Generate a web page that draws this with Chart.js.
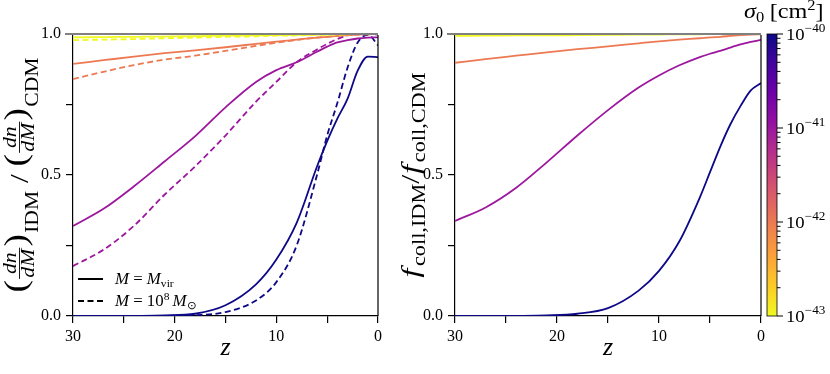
<!DOCTYPE html>
<html><head><meta charset="utf-8">
<script src="https://cdn.jsdelivr.net/npm/chart.js@4.4.0/dist/chart.umd.min.js"></script>
<style>
html,body{margin:0;padding:0;background:#fff;}
#wrap{position:relative;width:830px;height:374px;overflow:hidden;background:#fff;}
canvas{position:absolute;top:0;}
.fl{position:absolute;left:-999px;top:0;font-family:"Liberation Serif";}
</style></head><body>
<div id="wrap">
<canvas id="cL" width="395" height="374" style="left:0px"></canvas>
<canvas id="cR" width="375" height="374" style="left:395px"></canvas>
<canvas id="cB" width="100" height="374" style="left:730px"></canvas>
</div>
<span class="fl">x</span><span class="fl" style="font-style:italic">x</span>
<script>
// ---------------- data ----------------
const zGrid = [30, 27, 24, 21, 18, 15, 12, 10, 8, 6, 5, 4, 3, 2, 1, 0];
const sigmaExponents = [-43, -42, -41, -40];           // sigma_0 = 10^e cm^2
const xTickLabels = [30, 20, 10, 0];
const yTickLabels = [0, 0.5, 1];

// left panel: (dn/dM)_IDM / (dn/dM)_CDM, solid: M = M_vir
const hmfVir_43 = [0.988,0.989,0.990,0.991,0.992,0.994,0.995,0.996,0.997,0.998,0.998,0.999,0.999,1.000,1.000,1.000];
const hmfVir_42 = [0.894,0.907,0.920,0.932,0.942,0.953,0.965,0.973,0.980,0.987,0.990,0.993,0.996,0.998,0.999,1.000];
const hmfVir_41 = [0.319,0.380,0.460,0.548,0.637,0.740,0.830,0.872,0.900,0.937,0.955,0.970,0.978,0.984,0.987,0.988];
const hmfVir_40 = [0.000,0.000,0.0005,0.002,0.008,0.038,0.112,0.200,0.330,0.530,0.620,0.700,0.770,0.870,0.920,0.918];
// dashed: M = 1e8 Msun
const hmf8_43 = [0.978,0.980,0.982,0.985,0.987,0.990,0.992,0.994,0.995,0.997,0.998,0.998,0.999,1.000,1.000,1.000];
const hmf8_42 = [0.840,0.866,0.890,0.909,0.923,0.940,0.958,0.969,0.979,0.987,0.990,0.993,0.996,0.998,0.999,1.000];
const hmf8_41 = [0.177,0.235,0.320,0.430,0.530,0.640,0.760,0.830,0.900,0.945,0.965,0.982,0.995,1.000,1.000,0.998];
const hmf8_40 = [0.000,0.000,0.000,0.0005,0.003,0.014,0.055,0.120,0.250,0.500,0.640,0.755,0.880,0.970,0.997,0.960];

// right panel: f_coll,IDM / f_coll,CDM
const fcoll_43 = [0.993,0.994,0.995,0.995,0.996,0.997,0.998,0.998,0.999,0.999,1.000,1.000,1.000,1.000,1.000,1.000];
const fcoll_42 = [0.898,0.911,0.923,0.935,0.946,0.956,0.967,0.974,0.980,0.985,0.988,0.990,0.993,0.996,0.998,0.999];
const fcoll_41 = [0.337,0.385,0.455,0.545,0.640,0.730,0.810,0.853,0.889,0.918,0.930,0.940,0.952,0.963,0.972,0.979];
const fcoll_40 = [0.000,0.000,0.0005,0.002,0.008,0.028,0.090,0.160,0.265,0.420,0.510,0.600,0.680,0.745,0.800,0.826];

// ---------------- styles ----------------
const sigmaColors = ['#f0f921', '#ed7953', '#9c179e', '#0d0887'];
const plasmaStops = ['#0d0887','#41049d','#6a00a8','#8f0da4','#b12a90','#cc4778','#e16462','#f2844b','#fca636','#fcce25','#f0f921'];
const FAM = '"Liberation Serif", serif';
const F = (size, italic) => (italic ? 'italic ' : '') + size + 'px ' + FAM;
const DASH = [6, 3.5];

Chart.defaults.font.family = FAM;
Chart.defaults.font.size = 16;
Chart.defaults.color = '#000';

function mk(vals, color, dashed) {
  return {
    data: zGrid.map((z, i) => ({ x: z, y: vals[i] })),
    borderColor: color, borderWidth: 1.8, borderDash: dashed ? DASH : [],
    pointRadius: 0, fill: false, cubicInterpolationMode: 'monotone', tension: 0.4
  };
}

function xScale() {
  return {
    type: 'linear', min: 0, max: 30, reverse: true,
    ticks: { stepSize: 5, autoSkip: false, maxRotation: 0, padding: 4, color: '#000', font: { family: FAM, size: 16 },
      callback: v => (xTickLabels.includes(v) ? String(v) : '') },
    grid: { drawOnChartArea: false, drawTicks: true, tickLength: 7, color: '#000', lineWidth: 1.2 },
    border: { display: true, color: '#000', width: 1.2 },
    afterFit: s => { s.height = 58; }
  };
}
function yScale(w) {
  return {
    type: 'linear', min: 0, max: 1,
    ticks: { stepSize: 0.25, autoSkip: false, padding: 5, color: '#000', font: { family: FAM, size: 16 },
      callback: v => (yTickLabels.includes(v) ? v.toFixed(1) : '') },
    grid: { drawOnChartArea: false, drawTicks: true, tickLength: 7, color: '#000', lineWidth: 1.2 },
    border: { display: true, color: '#000', width: 1.2 },
    afterFit: s => { s.width = w; }
  };
}

// ---------------- rich text helpers ----------------
function itemWidth(ctx, it) {
  ctx.font = it.font;
  if (it.frac) return Math.max(ctx.measureText(it.num).width, ctx.measureText(it.den).width) + 4;
  return ctx.measureText(it.t).width + (it.sp || 0);
}
function richWidth(ctx, items) { return items.reduce((a, it) => a + itemWidth(ctx, it), 0); }
function drawItems(ctx, items, x, y) {
  for (const it of items) {
    const w = itemWidth(ctx, it);
    ctx.font = it.font;
    if (it.frac) {
      const wn = ctx.measureText(it.num).width, wd = ctx.measureText(it.den).width;
      ctx.fillText(it.num, x + (w - wn) / 2, y + it.nb);
      ctx.fillText(it.den, x + (w - wd) / 2, y + it.db);
      ctx.fillRect(x + 1, y + it.bar - 0.5, w - 2, 0.9);
    } else {
      ctx.fillText(it.t, x, y + (it.dy || 0));
    }
    x += w;
  }
}
function drawRotLabel(ctx, items, cx, cy, targetLen) {
  ctx.save();
  ctx.translate(cx, cy); ctx.rotate(-Math.PI / 2);
  ctx.textBaseline = 'alphabetic'; ctx.textAlign = 'left'; ctx.fillStyle = '#000';
  const w = richWidth(ctx, items);
  ctx.scale(targetLen / w, 1);
  drawItems(ctx, items, -w / 2, 0);
  ctx.restore();
}
function drawRich(ctx, items, x, y, sx) {
  ctx.save();
  ctx.textBaseline = 'alphabetic'; ctx.textAlign = 'left'; ctx.fillStyle = '#000';
  ctx.translate(x, y); ctx.scale(sx || 1, 1);
  drawItems(ctx, items, 0, 0);
  ctx.restore();
}

const framePlugin = {
  id: 'frame',
  afterDatasetsDraw(chart) {
    const { ctx, chartArea: a } = chart;
    const y1 = chart.scales.y.getPixelForValue(1);
    ctx.save();
    ctx.strokeStyle = '#808080'; ctx.lineWidth = 2.2;
    ctx.beginPath(); ctx.moveTo(a.left - 8, y1); ctx.lineTo(a.right, y1); ctx.stroke();
    ctx.restore();
  },
  afterDraw(chart) {
    const { ctx, chartArea: a } = chart;
    ctx.save();
    ctx.strokeStyle = '#000'; ctx.lineWidth = 1.2;
    ctx.beginPath(); ctx.moveTo(a.right, a.top + 1); ctx.lineTo(a.right, a.bottom); ctx.stroke();
    ctx.fillStyle = '#000'; ctx.font = F(26, true); ctx.textAlign = 'center'; ctx.textBaseline = 'alphabetic';
    ctx.fillText('z', (a.left + a.right) / 2, 355);
    ctx.restore();
  }
};

const P = F(31, false);
const fracItem = { frac: true, num: 'dn', den: 'dM', font: F(18, true), nb: -10, db: 8, bar: -6.5 };
const leftLabel = [
  { t: '(', font: P, dy: 0 }, fracItem, { t: ')', font: P, dy: 0, sp: 1 }, { t: 'IDM', font: F(18, false), dy: 12 },
  { t: ' / ', font: F(26, false), dy: 2 },
  { t: '(', font: P, dy: 0 }, fracItem, { t: ')', font: P, dy: 0, sp: 1 }, { t: 'CDM', font: F(18, false), dy: 12 }
];
const rightLabel = [
  { t: 'f', font: F(26, true), sp: 2 }, { t: 'coll,IDM', font: F(18, false), dy: 6 },
  { t: '/', font: F(26, false), sp: 1 },
  { t: 'f', font: F(26, true), sp: 2 }, { t: 'coll,CDM', font: F(18, false), dy: 6 }
];

const leftPlugin = {
  id: 'leftDeco',
  afterDraw(chart) {
    const ctx = chart.ctx;
    drawRotLabel(ctx, leftLabel, 26, 175, 235);
    ctx.save();
    ctx.strokeStyle = '#000'; ctx.lineWidth = 2;
    ctx.beginPath(); ctx.moveTo(78, 279); ctx.lineTo(103, 279); ctx.stroke();
    ctx.setLineDash(DASH);
    ctx.beginPath(); ctx.moveTo(78, 301); ctx.lineTo(103, 301); ctx.stroke();
    ctx.restore();
    drawRich(ctx, [{ t: 'M', font: F(16, true) }, { t: ' = ', font: F(16) }, { t: 'M', font: F(16, true) }, { t: 'vir', font: F(11), dy: 3 }], 115, 284, 1.05);
    drawRich(ctx, [{ t: 'M', font: F(16, true) }, { t: ' = 10', font: F(16) }, { t: '8', font: F(11), dy: -6, sp: 3 }, { t: 'M', font: F(16, true) }, { t: '⊙', font: F(11), dy: 3 }], 115, 306, 1.05);
  }
};
const rightPlugin = {
  id: 'rightDeco',
  afterDraw(chart) { drawRotLabel(chart.ctx, rightLabel, 24, 175, 205); }
};

const commonOpts = (yw, pad) => ({
  responsive: false, animation: false, devicePixelRatio: 1,
  layout: { padding: pad },
  plugins: { legend: { display: false }, tooltip: { enabled: false } },
  scales: { x: xScale(), y: yScale(yw) }
});

const cbPlugin = {
  id: 'colorbar',
  afterDraw(chart) {
    const { ctx, chartArea: a } = chart;
    const ys = chart.scales.y;
    ctx.save();
    const g = ctx.createLinearGradient(0, a.top, 0, a.bottom);
    plasmaStops.forEach((c, i) => g.addColorStop(i / (plasmaStops.length - 1), c));
    ctx.fillStyle = g; ctx.fillRect(a.left, a.top, a.right - a.left, a.bottom - a.top);
    ctx.strokeStyle = '#000'; ctx.lineWidth = 0.8;
    ctx.strokeRect(a.left, a.top, a.right - a.left, a.bottom - a.top);
    ctx.lineWidth = 1;
    sigmaExponents.forEach(e => {
      const py = ys.getPixelForValue(Math.pow(10, e));
      ctx.beginPath(); ctx.moveTo(a.right, py); ctx.lineTo(a.right + 6, py); ctx.stroke();
      if (e < sigmaExponents[sigmaExponents.length - 1]) {
        for (let m = 2; m <= 9; m++) {
          const pm = ys.getPixelForValue(m * Math.pow(10, e));
          ctx.beginPath(); ctx.moveTo(a.right, pm); ctx.lineTo(a.right + 3.5, pm); ctx.stroke();
        }
      }
      drawRich(ctx, [{ t: '10', font: F(17) }, { t: '\u2212' + (-e), font: F(12), dy: -8 }], a.right + 9, py + 6, 1.1);
    });
    ctx.restore();
    drawRich(ctx, [{ t: 'σ', font: F(22, true) }, { t: '0', font: F(15), dy: 4, sp: 5 }, { t: '[cm', font: F(22) }, { t: '2', font: F(15), dy: -8 }, { t: ']', font: F(22) }], 14, 18, 1.1);
  }
};

function build() {
  new Chart(document.getElementById('cL'), {
    type: 'line',
    data: { datasets: [
      mk(hmfVir_43, sigmaColors[0], false), mk(hmf8_43, sigmaColors[0], true),
      mk(hmfVir_42, sigmaColors[1], false), mk(hmf8_42, sigmaColors[1], true),
      mk(hmfVir_41, sigmaColors[2], false), mk(hmf8_41, sigmaColors[2], true),
      mk(hmfVir_40, sigmaColors[3], false), mk(hmf8_40, sigmaColors[3], true)
    ] },
    options: commonOpts(73, { top: 34, right: 17, left: 0, bottom: 0 }),
    plugins: [framePlugin, leftPlugin]
  });
  new Chart(document.getElementById('cR'), {
    type: 'line',
    data: { datasets: [
      mk(fcoll_43, sigmaColors[0], false), mk(fcoll_42, sigmaColors[1], false),
      mk(fcoll_41, sigmaColors[2], false), mk(fcoll_40, sigmaColors[3], false)
    ] },
    options: commonOpts(60, { top: 34, right: 9, left: 0, bottom: 0 }),
    plugins: [framePlugin, rightPlugin]
  });
  new Chart(document.getElementById('cB'), {
    type: 'scatter',
    data: { datasets: [{ data: [] }] },
    options: {
      responsive: false, animation: false, devicePixelRatio: 1,
      layout: { padding: { left: 37, right: 53, top: 34, bottom: 58 } },
      plugins: { legend: { display: false }, tooltip: { enabled: false } },
      scales: {
        x: { display: false, min: 0, max: 1 },
        y: { type: 'logarithmic', position: 'right', min: Math.pow(10, sigmaExponents[0]), max: Math.pow(10, sigmaExponents[3]),
             ticks: { display: false }, grid: { display: false }, border: { display: false },
             afterFit: s => { s.width = 0; } }
      }
    },
    plugins: [cbPlugin]
  });
}

const fontLoads = [document.fonts.load('16px "Liberation Serif"'), document.fonts.load('italic 16px "Liberation Serif"')];
Promise.all(fontLoads).then(build, build);
</script>
</body></html>
